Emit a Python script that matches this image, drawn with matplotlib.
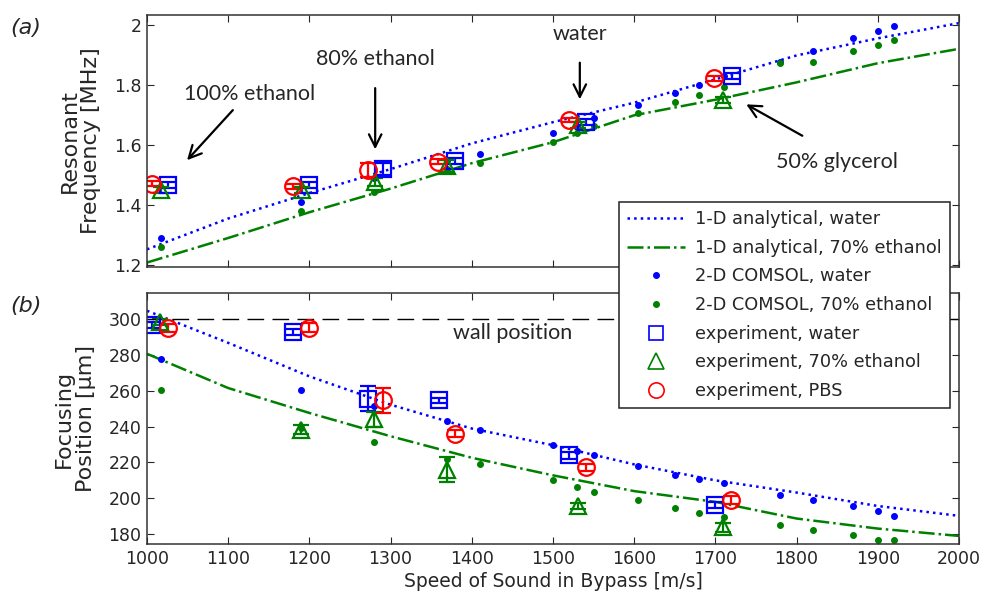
import numpy as np
import matplotlib
matplotlib.use("Agg")
import matplotlib.pyplot as plt
from matplotlib.lines import Line2D

plt.rcParams['font.family'] = ['DejaVu Sans']

# --- data ---
c_line = [1000, 1100, 1200, 1300, 1400, 1500, 1600, 1700, 1800, 1900, 2000]
f_water_1d = [1.252, 1.355, 1.44, 1.52, 1.606, 1.677, 1.742, 1.82, 1.90, 1.957, 2.008]
f_eth_1d = [1.208, 1.29, 1.376, 1.455, 1.54, 1.61, 1.70, 1.752, 1.81, 1.874, 1.922]
p_water_1d = [304.6, 286.7, 268.0, 252.2, 238.9, 229.6, 218.9, 210.0, 203.2, 195.7, 190.2]
p_eth_1d = [280.6, 261.5, 247.6, 234.6, 222.6, 212.8, 204.0, 198.0, 188.7, 183.1, 179.0]

c_comsol = [1017, 1190, 1280, 1370, 1410, 1500, 1530, 1550, 1605, 1650, 1680, 1710,
            1780, 1820, 1870, 1900, 1920]
f_water_2d = [1.29, 1.41, 1.49, 1.55, 1.572, 1.64, 1.66, 1.69, 1.734, 1.775, 1.80, 1.83,
              1.878, 1.915, 1.957, 1.98, 1.998]
f_eth_2d = [1.259, 1.38, 1.443, 1.52, 1.54, 1.61, 1.64, 1.664, 1.706, 1.744, 1.767, 1.793,
            1.875, 1.877, 1.915, 1.935, 1.95]
p_water_2d = [277.8, 260.6, 251.3, 243.3, 238.3, 229.6, 226.3, 224.0, 218.0, 212.8, 211.0,
              208.3, 201.7, 199.0, 195.7, 193.0, 190.2]
p_eth_2d = [260.6, 239.0, 231.3, 221.7, 219.3, 210.0, 206.5, 203.7, 199.0, 194.8, 192.0,
            189.8, 185.0, 182.4, 179.4, 176.7, 176.7]

# experiments (resonant frequency)
cw_f = [1026, 1200, 1291, 1379, 1541, 1720]
fw = [1.466, 1.466, 1.52, 1.546, 1.676, 1.83]
fw_err = [0.01, 0.01, 0.02, 0.01, 0.01, 0.01]
ce_f = [1017, 1191, 1281, 1369, 1531, 1709]
fe = [1.45, 1.45, 1.477, 1.53, 1.667, 1.752]
fe_err = [0.01, 0.01, 0.015, 0.02, 0.01, 0.01]
cp_f = [1006, 1180, 1272, 1358, 1520, 1698]
fp = [1.472, 1.463, 1.516, 1.545, 1.684, 1.824]
fp_err = [0.008, 0.008, 0.023, 0.008, 0.008, 0.008]

# experiments (focusing position)
cw_p = [1006, 1180, 1272, 1360, 1520, 1700]
pw = [296.7, 292.8, 255.6, 254.6, 224.0, 196.3]
pw_err = [1.5, 1.5, 7.0, 1.5, 2.0, 1.5]
ce_p = [1016, 1190, 1280, 1369, 1531, 1709]
pe = [298.3, 238.3, 244.0, 216.0, 195.7, 183.9]
pe_err = [1.5, 2.5, 4.0, 7.0, 1.5, 2.5]
cp_p = [1026, 1200, 1291, 1379, 1541, 1719]
pp = [295.0, 295.0, 254.6, 236.0, 217.4, 199.0]
pp_err = [2.0, 2.5, 7.0, 2.0, 2.0, 2.0]

wall = 300

blue = (0, 0, 1)
green = (0, 0.5, 0)
red = (1, 0, 0)
ink = '#262626'

fig = plt.figure(figsize=(9.82, 5.98), dpi=100)
ax1 = fig.add_axes([0.1497, 0.5535, 0.8269, 0.4214])
ax2 = fig.add_axes([0.1497, 0.0903, 0.8269, 0.4197])


def draw(ax, y_w1d, y_e1d, y_w2d, y_e2d, exps):
    ax.plot(c_line, y_w1d, ':', color=blue, lw=1.8)
    ax.plot(c_line, y_e1d, '-.', color=green, lw=1.8)
    ax.plot(c_comsol, y_w2d, '.', color=blue, ms=8)
    ax.plot(c_comsol, y_e2d, '.', color=green, ms=8)
    for x, y, err, mk, col, ms in exps:
        ax.errorbar(x, y, yerr=err, fmt=mk, color=col, mfc='none', mec=col, ms=ms,
                    mew=1.6, elinewidth=1.6, capsize=5.5, capthick=1.6)


draw(ax1, f_water_1d, f_eth_1d, f_water_2d, f_eth_2d,
     [(cw_f, fw, fw_err, 's', blue, 11),
      (ce_f, fe, fe_err, '^', green, 12),
      (cp_f, fp, fp_err, 'o', red, 12)])
draw(ax2, p_water_1d, p_eth_1d, p_water_2d, p_eth_2d,
     [(cw_p, pw, pw_err, 's', blue, 11),
      (ce_p, pe, pe_err, '^', green, 12),
      (cp_p, pp, pp_err, 'o', red, 12)])
ax2.plot([1000, 2000], [wall, wall], '--', color='black', lw=1.0, dashes=(12, 6))

for ax in (ax1, ax2):
    ax.set_xlim(1000, 2000)
    ax.set_xticks(np.arange(1000, 2001, 100))
    ax.tick_params(direction='in', top=True, right=True, length=5, labelsize=12.5,
                   colors=ink, pad=4)
    for s in ax.spines.values():
        s.set_color('#333333')
        s.set_linewidth(1.1)
ax1.set_ylim(1.193, 2.035)
ax1.set_yticks([1.2, 1.4, 1.6, 1.8, 2.0])
ax1.set_yticklabels(['1.2', '1.4', '1.6', '1.8', '2'])
ax1.tick_params(labelbottom=False)
ax2.set_ylim(174.5, 314.5)
ax2.set_yticks(np.arange(180, 301, 20))

ax1.set_ylabel('Resonant\nFrequency [MHz]', fontsize=16, color=ink, labelpad=9,
               linespacing=1.1)
ax2.set_ylabel('Focusing\nPosition [\u03bcm]', fontsize=16, color=ink, labelpad=9,
               linespacing=1.1)
ax2.set_xlabel('Speed of Sound in Bypass [m/s]', fontsize=13.5, color=ink, labelpad=3)

fig.text(0.010, 0.953, '(a)', fontsize=16, style='italic', va='center', color=ink)
fig.text(0.010, 0.488, '(b)', fontsize=16, style='italic', va='center', color=ink)

ann = dict(fontsize=15.5, family=['Lato', 'DejaVu Sans'], color=ink, ha='center', va='center')
arr = dict(arrowstyle='->,head_length=0.9,head_width=0.45', lw=1.6, color='black')
ax1.text(1126, 1.771, '100% ethanol', **ann)
ax1.annotate('', xy=(1047, 1.543), xytext=(1108, 1.724), arrowprops=arr)
ax1.text(1281, 1.888, '80% ethanol', **ann)
ax1.annotate('', xy=(1281, 1.577), xytext=(1281, 1.80), arrowprops=arr)
ax1.text(1533, 1.972, 'water', **ann)
ax1.annotate('', xy=(1533, 1.744), xytext=(1533, 1.885), arrowprops=arr)
ax1.text(1850, 1.543, '50% glycerol', **ann)
ax1.annotate('', xy=(1735, 1.741), xytext=(1810, 1.627), arrowprops=arr)
ann2 = dict(ann)
ann2['ha'] = 'left'
ax2.text(1377, 292.2, 'wall position', **ann2)

handles = [
    Line2D([], [], ls=':', color=blue, lw=1.8),
    Line2D([], [], ls='-.', color=green, lw=1.8),
    Line2D([], [], ls='none', marker='.', color=blue, ms=8),
    Line2D([], [], ls='none', marker='.', color=green, ms=8),
    Line2D([], [], ls='none', marker='s', mec=blue, mfc='none', ms=10, mew=1.2),
    Line2D([], [], ls='none', marker='^', mec=green, mfc='none', ms=11, mew=1.2),
    Line2D([], [], ls='none', marker='o', mec=red, mfc='none', ms=11, mew=1.2),
]
labels = ['1-D analytical, water', '1-D analytical, 70% ethanol', '2-D COMSOL, water',
          '2-D COMSOL, 70% ethanol', 'experiment, water', 'experiment, 70% ethanol',
          'experiment, PBS']
leg = fig.legend(handles, labels, loc='upper right', bbox_to_anchor=(0.967, 0.662),
                 fontsize=12.8, frameon=True, fancybox=False, framealpha=1,
                 edgecolor='#222222', handlelength=3.3, handletextpad=0.55,
                 labelspacing=0.6, borderpad=0.45, borderaxespad=0)
leg.get_frame().set_linewidth(1.1)
for t in leg.get_texts():
    t.set_color(ink)

fig.savefig('out.png', dpi=100)
